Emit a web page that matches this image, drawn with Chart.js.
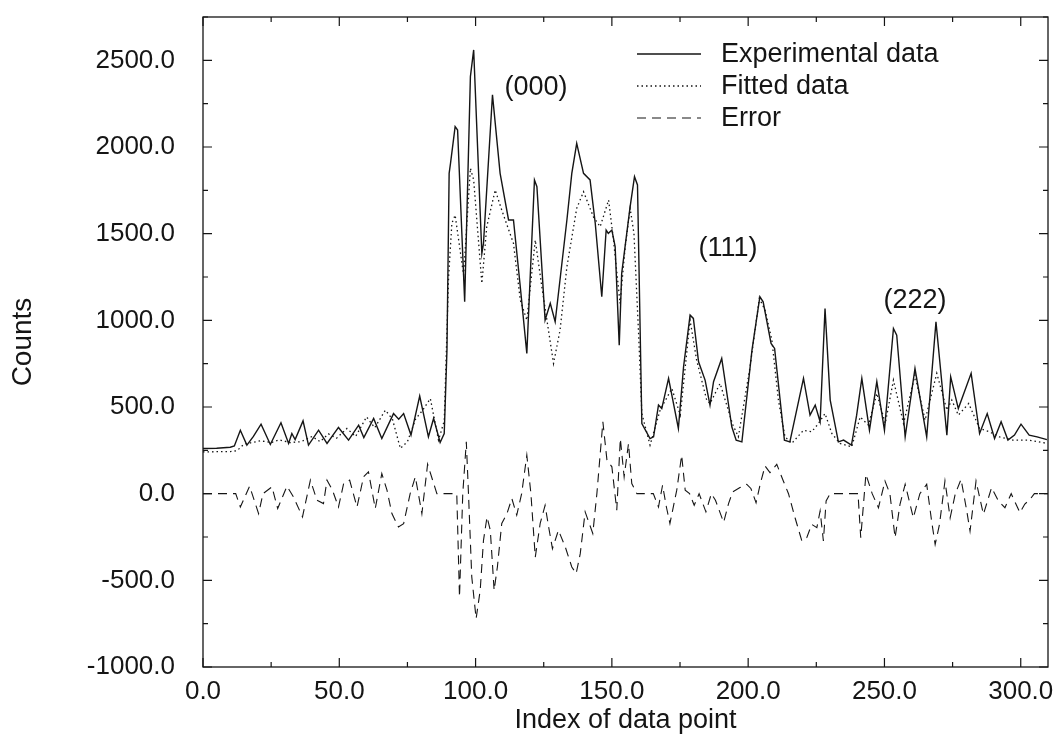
<!DOCTYPE html>
<html>
<head>
<meta charset="utf-8">
<script src="https://cdn.jsdelivr.net/npm/chart.js@4.4.1/dist/chart.umd.min.js"></script>
<style>
  html, body { margin: 0; padding: 0; background: #fff; }
</style>
</head>
<body>
<canvas id="c" width="1058" height="740"></canvas>
<script>
// experimental counts
const expX = [0, 5, 10, 11.5, 13.7, 16.1, 18.5, 21.3, 24.7, 28.6, 31.4, 32.6, 33.8, 36.7, 38.7, 42.4, 45.5, 49.7, 53.4, 57.1, 59,
  62.6, 65.6, 69.9, 71.8, 73.6, 76.3, 79.5, 82.7, 84.6, 87, 88.5, 89.5, 90.3, 90.8, 92.5, 93.4, 96, 98.1, 99.3, 102.3, 102.9,
  106.2, 109, 112.1, 113.9, 116.4, 118.8, 121.6, 122.5, 125.5, 127.4, 129.2, 133.5, 135.3, 137.1, 139.6, 142, 143.9, 146.3,
  147.9, 148.7, 150, 151.2, 152.7, 153.6, 156.7, 158.3, 159.4, 161, 164, 165.3, 167.1, 168.3, 170.8, 174.4, 176.3, 178.7,
  179.9, 181.8, 184.2, 186, 187.3, 190.3, 194, 195.6, 197.7, 201.4, 204.3, 205.5, 208.4, 209.7, 213.3, 215.3, 220.3, 222.7,
  224.6, 226.4, 228.2, 230.1, 233.1, 235, 237.9, 239.8, 241.7, 244.5, 247.2, 250, 253.3, 254.5, 257.6, 261.2, 265.5, 268.9,
  272.9, 274.3, 277.1, 281.8, 284.9, 287.7, 290.4, 292.8, 295.3, 297.7, 300.1, 303.1, 306, 309.6];
const expY = [261, 262, 268, 275, 366, 280, 330, 401, 284, 409, 290, 347, 312, 420, 280, 366, 290, 382, 309, 395, 324,
  434, 318, 462, 430, 462, 338, 563, 328, 434, 295, 347, 828, 1848, 1906, 2118, 2098, 1107, 2406, 2560, 1386, 1444,
  2301, 1848, 1579, 1579, 1194, 809, 1810, 1771, 1001, 1098, 992, 1579, 1848, 2021, 1848, 1810, 1560, 1136,
  1521, 1502, 1521, 1425, 857, 1271, 1656, 1829, 1781, 405, 318, 328, 511, 491, 665, 376, 732, 1030,
  1011, 761, 655, 511, 646, 780, 386, 309, 299, 828, 1136, 1107, 867, 838, 309, 299, 665, 453,
  511, 415, 1068, 540, 299, 309, 280, 453, 665, 366, 646, 366, 953, 915, 328, 722, 328, 992,
  338, 674, 491, 694, 347, 462, 318, 415, 309, 338, 401, 338, 328, 312];

// fitted counts
const fitX = [0, 10, 12.5, 15, 18, 21, 25, 28, 32, 36, 40, 43, 46, 49, 52.8, 56, 60, 63, 66.9, 69.5, 72.4, 75, 78, 80.5,
  83.4, 86.4, 88.5, 90.1, 91.3, 92.5, 93.8, 95.6, 98.1, 99.3, 102.3, 104.1, 107.2, 109.6, 113.9, 116.4, 118.8, 121.9,
  124.3, 128.6, 131, 133.5, 137.1, 139.6, 143.2, 145.7, 148.8, 150.6, 153, 154.9, 156.7, 158.1, 159.8, 161, 164, 167.7,
  172, 175.1, 178.7, 181.1, 184.8, 186, 189.7, 194.3, 196.4, 200.7, 204.1, 206.2, 208.7, 211.1, 213.5, 216, 220.3, 223.3,
  225.8, 228.2, 230.7, 233.7, 238, 241.1, 244.1, 247.2, 250.3, 253.3, 257, 261.2, 264.9, 269.2, 272.9, 274.7, 277.1,
  280.9, 284.9, 288.5, 292.2, 297.1, 303.1, 309.6];
const fitY = [241, 243, 248, 285, 295, 305, 295, 310, 295, 300, 330, 300, 345, 320, 376, 330, 443, 380, 482, 430, 261, 300, 430, 480,
  549, 309, 420, 1251, 1560, 1607, 1463, 1261, 1877, 1810, 1213, 1540, 1752, 1636, 1444, 1117, 1001, 1463,
  1194, 751, 944, 1309, 1646, 1742, 1598, 1540, 1694, 1463, 1098, 1425, 1646, 1502, 924, 462, 280, 482,
  607, 453, 1001, 770, 540, 520, 636, 400, 328, 732, 1127, 1059, 886, 540, 328, 290, 366, 357,
  405, 462, 347, 290, 270, 443, 395, 578, 405, 655, 405, 684, 424, 694, 482, 540, 453,
  520, 376, 357, 328, 309, 309, 290];

// error = experimental - fitted
const errX = [0, 12, 13.7, 17.1, 20.4, 22, 25.3, 27.4, 30.8, 33.2, 36.5, 39.4, 41.8, 44.2, 45.5, 47.5, 49.7, 51.6, 53.8, 56.5,
  58.9, 60.7, 63.2, 65.6, 67.5, 69.3, 71.7, 73.6, 76, 77.9, 80.3, 82.4, 84.6, 85.8, 93.1, 94.1, 95.3, 96.6, 97.4, 98.6,
  100.2, 101.7, 102.9, 104.2, 105.4, 106.8, 108, 109.6, 111.5, 113.3, 115.1, 116.9, 118.8, 120.3, 121.9, 123.7, 125.5,
  126.8, 128.2, 130.4, 132.9, 135.3, 136.9, 138.4, 140.2, 143, 144.5, 146.7, 148.2, 150, 151.8, 153.1, 154.5, 156.1,
  157.3, 159.2, 165.2, 167.1, 168.6, 170, 171.3, 173.8, 175.6, 176.9, 178.5, 180.2, 182, 184.5, 186.5, 188, 191, 192.8,
  194.3, 197, 199.5, 201, 202.9, 204.4, 206.2, 208, 210.5, 212.9, 214.8, 217.2, 219.7, 221.5, 223.3, 225.2, 226.4,
  227.6, 228.6, 230.1, 240.3, 241.3, 243.2, 245.5, 247.8, 250.2, 252, 253.9, 255.7, 257.6, 260.6, 263, 265.5, 267.3,
  268.6, 270.2, 272.2, 274.1, 276, 278.1, 280.2, 281.4, 283.6, 286.3, 289.3, 291.8, 294.2, 296.5, 299.7, 301.5, 303.4,
  305, 310];
const errY = [0, 0, -77, 43, -115, 0, 39, -86, 43, -19, -134, 78, -38, -57, 78, 20, -77, 58, 78, -77,
  97, 126, -86, 116, 20, -115, -192, -173, 0, 97, -115, 170, 60, 0, 0, -596, 0, 299, 0, -480,
  -721, -557, -269, -134, -211, -557, -423, -172, -115, -28, -124, 0, 222, 0, -366, -172, -67,
  -192, -317, -211, -307, -423, -461, -346, -105, -230, 0, 414, 193, 155, -95, 318, 97, 289,
  58, 0, 0, -77, 49, -77, -172, 20, 222, 20, 0, -67, 0, -105, 0, -38, -165, -57,
  10, 35, 54, 30, -52, 54, 160, 121, 169, 73, 0, -139, -273, -254, -177, -196, -100,
  -273, -42, 0, 0, -254, 112, 0, -81, 73, 0, -254, -62, 54, -139, 0, 54, -158,
  -293, -177, 73, -139, 0, 83, -100, -216, 73, -119, 35, -42, -81, 0, -110, -60, -33,
  0, 0];

const seriesNames = ['Experimental data', 'Fitted data', 'Error'];
const xTicks = [0, 50, 100, 150, 200, 250, 300];
const yTicks = [-1000, -500, 0, 500, 1000, 1500, 2000, 2500];
const peakNames = ['(000)', '(111)', '(222)'];
const peakX = [122.2, 192.6, 261.2];
const peakY = [2341, 1412, 1117];

const INK = '#151515';
const FONT = '"Liberation Sans", Arial, Helvetica, sans-serif';

function pairs(xs, ys) {
  return xs.map((x, i) => ({ x: x, y: ys[i] }));
}

// frame with inward ticks, legend and peak labels
const decorations = {
  id: 'decorations',
  afterDatasetsDraw(chart) {
    const { ctx, chartArea: a, scales: { x, y } } = chart;
    ctx.save();
    ctx.strokeStyle = INK;
    ctx.lineWidth = 1.3;
    ctx.strokeRect(a.left, a.top, a.right - a.left, a.bottom - a.top);

    ctx.lineWidth = 1.2;
    ctx.beginPath();
    for (let v = 0; v <= x.max; v += 25) {
      const px = x.getPixelForValue(v);
      const len = v % 50 === 0 ? 9 : 5;
      ctx.moveTo(px, a.bottom); ctx.lineTo(px, a.bottom - len);
      ctx.moveTo(px, a.top); ctx.lineTo(px, a.top + len);
    }
    for (let v = y.min; v <= y.max; v += 250) {
      const py = y.getPixelForValue(v);
      const len = v % 500 === 0 ? 9 : 5;
      ctx.moveTo(a.left, py); ctx.lineTo(a.left + len, py);
      ctx.moveTo(a.right, py); ctx.lineTo(a.right - len, py);
    }
    ctx.stroke();

    // legend
    ctx.font = '27px ' + FONT;
    ctx.fillStyle = INK;
    ctx.textBaseline = 'middle';
    ctx.textAlign = 'left';
    chart.data.datasets.forEach((ds, i) => {
      const ly = 54 + i * 32;
      ctx.save();
      ctx.strokeStyle = ds.borderColor;
      ctx.lineWidth = ds.borderWidth;
      ctx.setLineDash(ds.borderDash || []);
      ctx.beginPath();
      ctx.moveTo(637, ly); ctx.lineTo(701, ly);
      ctx.stroke();
      ctx.restore();
      ctx.fillText(ds.label, 721, ly + 1);
    });

    // peak labels
    ctx.textAlign = 'center';
    peakNames.forEach((t, i) => {
      ctx.fillText(t, x.getPixelForValue(peakX[i]), y.getPixelForValue(peakY[i]));
    });
    ctx.restore();
  }
};

new Chart(document.getElementById('c'), {
  type: 'line',
  data: {
    datasets: [
      {
        label: seriesNames[0],
        data: pairs(expX, expY),
        borderColor: INK,
        borderWidth: 1.4,
        pointRadius: 0,
        tension: 0
      },
      {
        label: seriesNames[1],
        data: pairs(fitX, fitY),
        borderColor: INK,
        borderWidth: 1.3,
        borderDash: [1.5, 3],
        pointRadius: 0,
        tension: 0
      },
      {
        label: seriesNames[2],
        data: pairs(errX, errY),
        borderColor: INK,
        borderWidth: 1.1,
        borderDash: [9, 6],
        pointRadius: 0,
        tension: 0
      }
    ]
  },
  options: {
    responsive: false,
    animation: false,
    devicePixelRatio: 1,
    layout: { padding: { top: 17, right: 10, left: 0, bottom: 0 } },
    plugins: {
      legend: { display: false },
      tooltip: { enabled: false }
    },
    scales: {
      x: {
        type: 'linear',
        min: 0,
        max: 310,
        grid: { display: false },
        border: { display: false },
        afterFit: s => { s.height = 73; s.paddingLeft = 0; s.paddingRight = 0; },
        afterBuildTicks: s => { s.ticks = xTicks.map(v => ({ value: v })); },
        ticks: {
          color: INK,
          padding: 1,
          maxRotation: 0,
          font: { family: FONT, size: 26 },
          callback: v => Number(v).toFixed(1)
        },
        title: {
          display: true,
          text: 'Index of data point',
          color: INK,
          padding: { bottom: 3 },
          font: { family: FONT, size: 27 }
        }
      },
      y: {
        type: 'linear',
        min: -1000,
        max: 2750,
        grid: { display: false },
        border: { display: false },
        afterFit: s => { s.width = 203; s.paddingTop = 0; s.paddingBottom = 0; },
        afterBuildTicks: s => { s.ticks = yTicks.map(v => ({ value: v })); },
        ticks: {
          color: INK,
          padding: 20,
          font: { family: FONT, size: 26 },
          callback: v => Number(v).toFixed(1)
        },
        title: {
          display: true,
          text: 'Counts',
          color: INK,
          padding: { top: 6 },
          font: { family: FONT, size: 28 }
        }
      }
    }
  },
  plugins: [decorations]
});
</script>
</body>
</html>
